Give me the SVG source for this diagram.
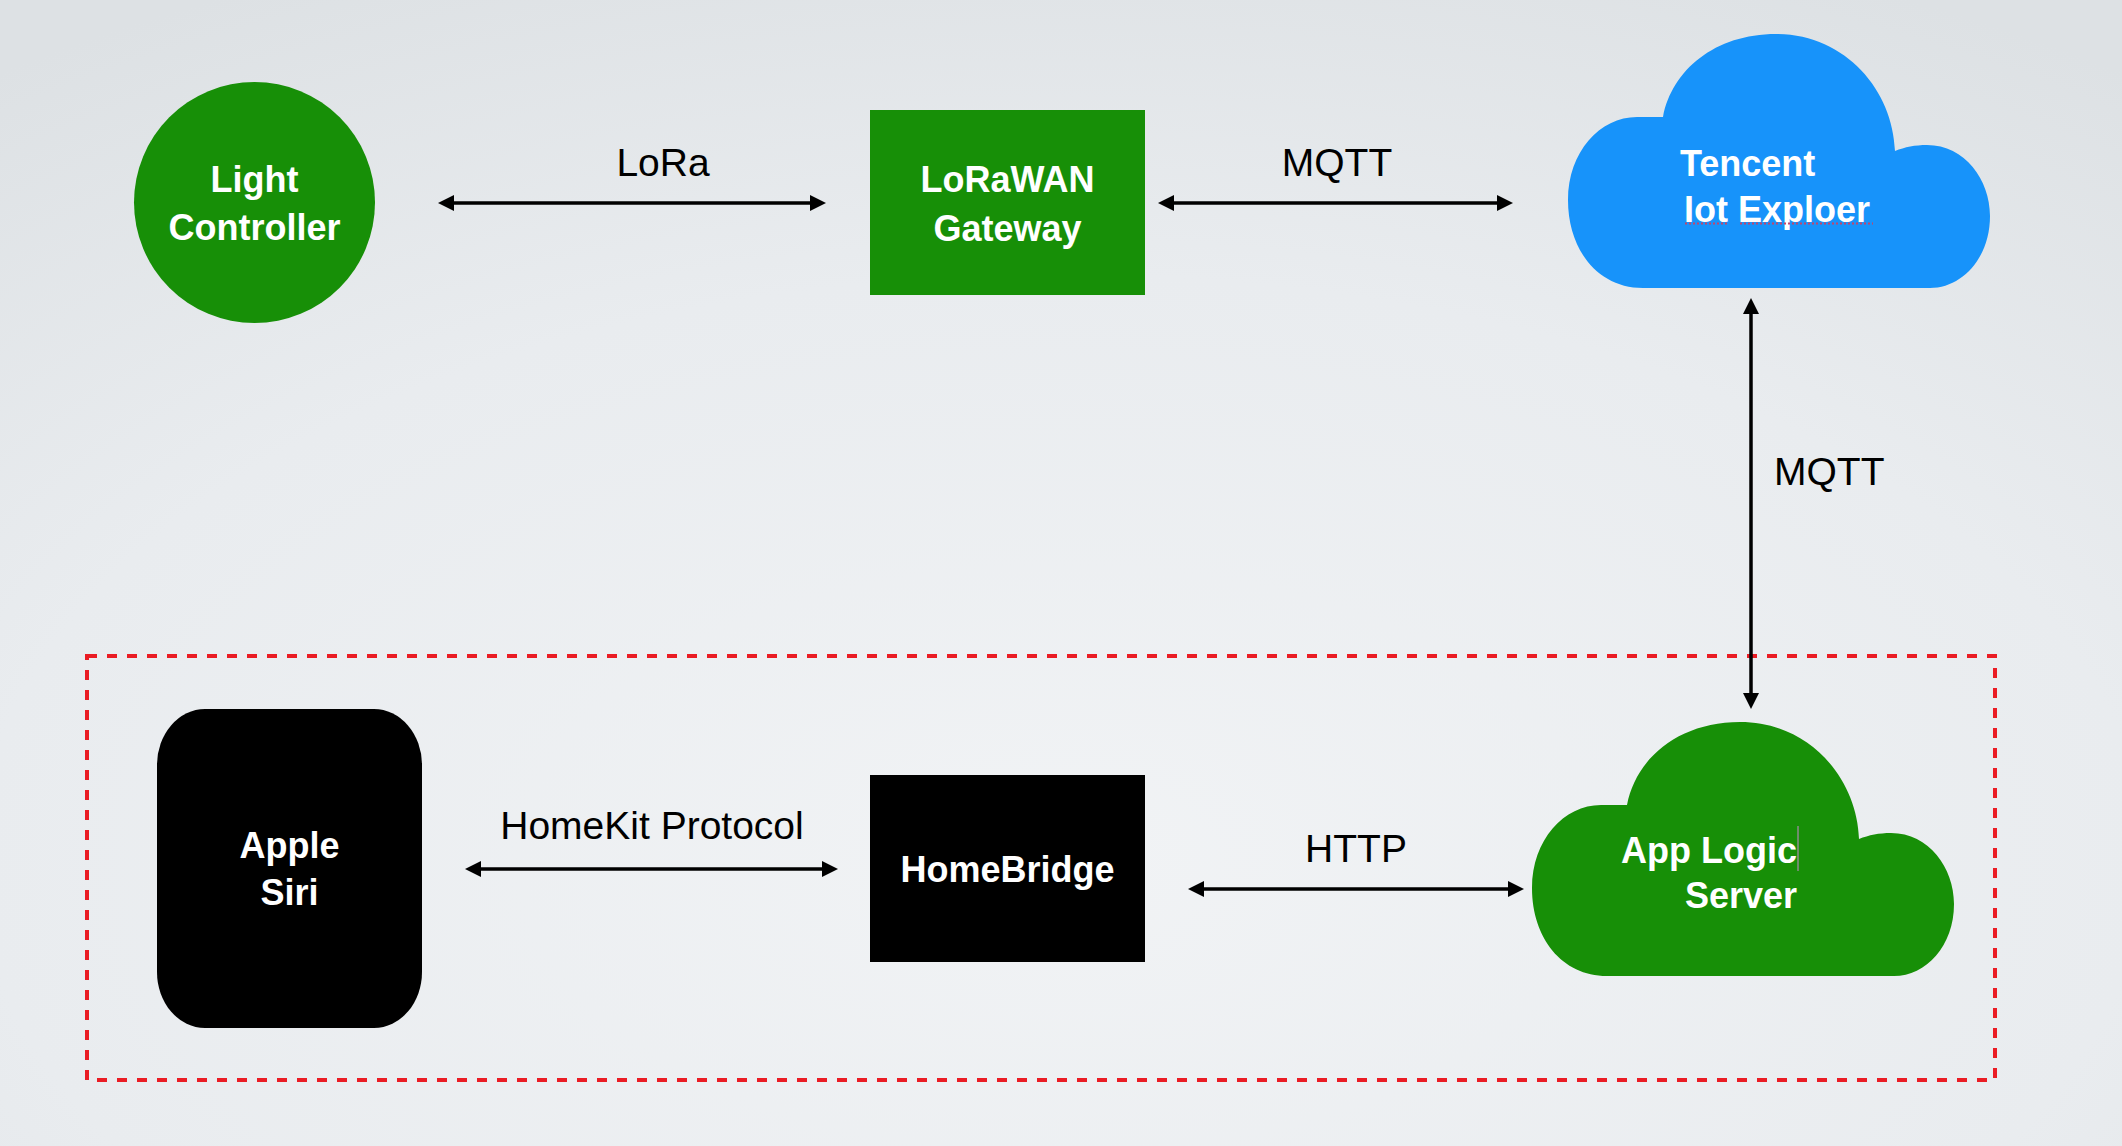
<svg xmlns="http://www.w3.org/2000/svg" width="2122" height="1146" viewBox="0 0 2122 1146">
  <defs>
    <radialGradient id="bg" cx="50%" cy="75%" r="85%" fx="50%" fy="75%">
      <stop offset="0" stop-color="#f1f3f5"/>
      <stop offset="0.6" stop-color="#e9ecef"/>
      <stop offset="1" stop-color="#dde1e4"/>
    </radialGradient>
    <marker id="ah" viewBox="0 0 16 16" markerUnits="userSpaceOnUse" markerWidth="16" markerHeight="16" refX="8" refY="8" orient="auto-start-reverse">
      <path d="M0,0 L16,8 L0,16 Z" fill="#000"/>
    </marker>
    <path id="cloud" d="M1643 288 C1598 288 1568 250 1568 200 C1568 152 1600 117 1637 117 L1663 117 C1672 70 1715 34 1776 34 C1845 34 1893 90 1895 151 C1905 147 1915 145 1927 145 C1965 145 1990 180 1990 216 C1990 258 1962 288 1930 288 Z"/>
    <style>
      .lbl { font-family: "Liberation Sans", Arial, sans-serif; font-size: 39px; fill: #000; }
      .nl { font-family: "Liberation Sans", Arial, sans-serif; font-size: 36px; font-weight: bold; fill: #fff; }
      .conn { stroke: #000; stroke-width: 3.5; fill: none; marker-start: url(#ah); marker-end: url(#ah); }
      .green { fill: #178f07; }
    </style>
  </defs>

  <rect x="0" y="0" width="2122" height="1146" fill="url(#bg)"/>

  <g id="boundary">
    <rect x="87" y="656" width="1908" height="424" fill="none" stroke="#ea1c24" stroke-width="4" stroke-dasharray="10 10"/>
  </g>

  <g id="light-controller">
    <circle cx="254.5" cy="202.5" r="120.5" class="green"/>
    <text class="nl" x="254.5" y="192" text-anchor="middle">Light</text>
    <text class="nl" x="254.5" y="240" text-anchor="middle">Controller</text>
  </g>

  <g id="lorawan-gateway">
    <rect x="870" y="110" width="275" height="185" class="green"/>
    <text class="nl" x="1007.5" y="192" text-anchor="middle">LoRaWAN</text>
    <text class="nl" x="1007.5" y="241" text-anchor="middle">Gateway</text>
  </g>

  <g id="tencent-iot-explorer">
    <use href="#cloud" fill="#1793fa"/>
    <text class="nl" x="1680" y="176">Tencent</text>
    <text class="nl" x="1684" y="222">Iot Exploer</text>
    <line x1="1685" y1="223.5" x2="1728" y2="223.5" stroke="#c2456d" stroke-width="2" stroke-dasharray="2 2"/>
    <line x1="1740" y1="223.5" x2="1873" y2="223.5" stroke="#c2456d" stroke-width="2" stroke-dasharray="2 2"/>
  </g>

  <g id="apple-siri">
    <rect x="157" y="709" width="265" height="319" rx="48" ry="56" fill="#000"/>
    <text class="nl" x="289.5" y="858" text-anchor="middle">Apple</text>
    <text class="nl" x="289.5" y="905" text-anchor="middle">Siri</text>
  </g>

  <g id="homebridge">
    <rect x="870" y="775" width="275" height="187" fill="#000"/>
    <text class="nl" x="1007.5" y="882" text-anchor="middle">HomeBridge</text>
  </g>

  <g id="app-logic-server">
    <use href="#cloud" class="green" transform="translate(-36 688)"/>
    <text class="nl" x="1797" y="863" text-anchor="end">App Logic</text>
    <text class="nl" x="1797" y="908" text-anchor="end">Server</text>
    <line x1="1798" y1="826" x2="1798" y2="871" stroke="#8c8c8c" stroke-width="1.5"/>
  </g>

  <g id="connectors">
    <line class="conn" x1="446" y1="203" x2="818" y2="203"/>
    <line class="conn" x1="1166" y1="203" x2="1505" y2="203"/>
    <line class="conn" x1="1751" y1="306" x2="1751" y2="701"/>
    <line class="conn" x1="473" y1="869" x2="830" y2="869"/>
    <line class="conn" x1="1196" y1="889" x2="1516" y2="889"/>
    <text class="lbl" x="663" y="176" text-anchor="middle">LoRa</text>
    <text class="lbl" x="1337" y="176" text-anchor="middle">MQTT</text>
    <text class="lbl" x="1774" y="485">MQTT</text>
    <text class="lbl" x="652" y="839" text-anchor="middle">HomeKit Protocol</text>
    <text class="lbl" x="1356" y="862" text-anchor="middle">HTTP</text>
  </g>
</svg>
